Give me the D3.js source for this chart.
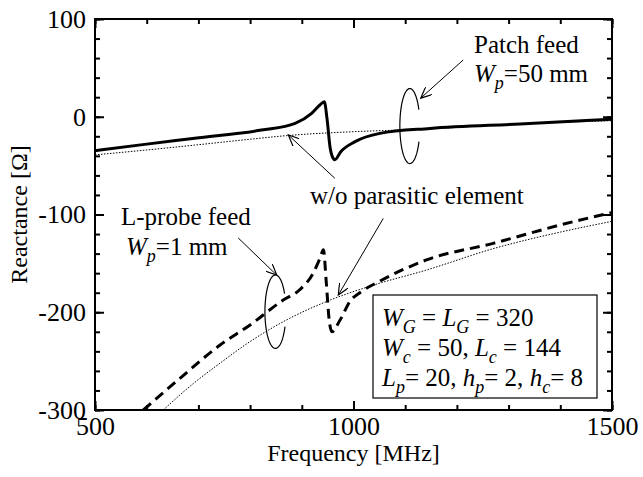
<!DOCTYPE html>
<html>
<head>
<meta charset="utf-8">
<script src="https://cdn.jsdelivr.net/npm/d3@7"></script>
<style>
body { margin: 0; background: #fff; }
text { font-family: "Liberation Serif", "Times New Roman", serif; fill: #000; }
.axis path.domain { display: none; }
.axis line { stroke: #000; stroke-width: 2; }
</style>
</head>
<body>
<svg id="myGraph" width="643" height="477"></svg>
<script>
// chart data
var xTicks = [500, 1000, 1500];
var yTicks = [100, 0, -100, -200, -300];

// Patch feed, Wp=50 mm (solid)
var patchFreq = [500, 600, 693, 822, 887, 919, 935, 943.5, 949, 954.6, 960, 964, 975, 1003, 1051, 1148, 1322, 1500];
var patchX    = [-34.7, -28, -22, -13.6, -6.7, 3.5, 12, 15.4, -3, -31, -42, -44, -36, -25.5, -17, -11.9, -7.4, -2.6];

// L-probe feed, Wp=1 mm (dashed)
var probeFreq = [593.5, 670, 742, 800, 864, 896, 922, 935, 942, 947, 953, 958, 974, 993, 1015, 1048, 1141, 1270, 1400, 1500];
var probeX    = [-300, -265, -233.5, -213, -187.5, -177, -160, -145, -136, -167, -208, -220, -208, -189, -179, -169, -146.5, -129.5, -110.7, -98];

// w/o parasitic element (dotted)
var refFreq  = [500, 600, 693, 800, 871, 1003, 1129, 1300, 1500];
var refUpper = [-39, -34, -29, -23, -19.3, -15.2, -12.9, -8, -4];
var refFreq2 = [632, 690, 742, 800, 870, 948, 1040, 1140, 1270, 1400, 1500];
var refLower = [-300, -273, -252, -230, -208, -189, -172, -157, -135, -118, -107];

var svg = d3.select("#myGraph");
var pLeft = 95, pRight = 612, pTop = 19, pBottom = 410;

var x = d3.scaleLinear().domain([500, 1500]).range([pLeft, pRight]);
var y = d3.scaleLinear().domain([-300, 100]).range([pBottom, pTop]);

// clip for curves
svg.append("clipPath").attr("id", "clip")
  .append("rect").attr("x", pLeft).attr("y", pTop).attr("width", pRight - pLeft).attr("height", pBottom - pTop);

// minor ticks on all sides
var minorX = d3.range(500, 1501, 100), minorY = d3.range(-300, 101, 20);
svg.append("g").attr("class", "axis").attr("transform", "translate(0," + pBottom + ")")
  .call(d3.axisBottom(x).tickValues(minorX).tickSize(-5).tickFormat(""));
svg.append("g").attr("class", "axis").attr("transform", "translate(0," + pTop + ")")
  .call(d3.axisTop(x).tickValues(minorX).tickSize(-5).tickFormat(""));
svg.append("g").attr("class", "axis").attr("transform", "translate(" + pLeft + ",0)")
  .call(d3.axisLeft(y).tickValues(minorY).tickSize(-5).tickFormat(""));
svg.append("g").attr("class", "axis").attr("transform", "translate(" + pRight + ",0)")
  .call(d3.axisRight(y).tickValues(minorY).tickSize(-5).tickFormat(""));

// major ticks + labels
var xAx = svg.append("g").attr("class", "axis").attr("transform", "translate(0," + pBottom + ")")
  .call(d3.axisBottom(x).tickValues(xTicks).tickSize(-9).tickPadding(7).tickFormat(function(d){ return String(d); }));
var yAx = svg.append("g").attr("class", "axis").attr("transform", "translate(" + pLeft + ",0)")
  .call(d3.axisLeft(y).tickValues(yTicks).tickSize(-9).tickPadding(9).tickFormat(function(d){ return String(d); }));
svg.append("g").attr("class", "axis").attr("transform", "translate(0," + pTop + ")")
  .call(d3.axisTop(x).tickValues(xTicks).tickSize(-9).tickFormat(""));
svg.append("g").attr("class", "axis").attr("transform", "translate(" + pRight + ",0)")
  .call(d3.axisRight(y).tickValues(yTicks).tickSize(-9).tickFormat(""));
xAx.selectAll("text").style("font-size", "26px").style("font-family", "Liberation Serif");
yAx.selectAll("text").style("font-size", "26px").style("font-family", "Liberation Serif");

// frame
svg.append("rect").attr("x", pLeft).attr("y", pTop).attr("width", pRight - pLeft).attr("height", pBottom - pTop)
  .attr("fill", "none").attr("stroke", "#000").attr("stroke-width", 2);

// axis titles
svg.append("text").attr("x", (pLeft + pRight) / 2).attr("y", 461).attr("text-anchor", "middle")
  .style("font-size", "24px").text("Frequency [MHz]");
svg.append("text").attr("transform", "translate(27," + ((pTop + pBottom) / 2) + ") rotate(-90)")
  .attr("text-anchor", "middle").style("font-size", "24px").text("Reactance [\u03A9]");

// curves
var line = d3.line().x(function(d){ return x(d[0]); }).y(function(d){ return y(d[1]); }).curve(d3.curveMonotoneX);
var curves = svg.append("g").attr("clip-path", "url(#clip)");
curves.append("path").datum(d3.zip(refFreq, refUpper)).attr("d", line)
  .attr("fill", "none").attr("stroke", "#000").attr("stroke-width", 1).attr("stroke-dasharray", "1.5,1.5");
curves.append("path").datum(d3.zip(refFreq2, refLower)).attr("d", line)
  .attr("fill", "none").attr("stroke", "#000").attr("stroke-width", 1).attr("stroke-dasharray", "1.5,1.5");
curves.append("path").datum(d3.zip(patchFreq, patchX)).attr("d", line)
  .attr("fill", "none").attr("stroke", "#000").attr("stroke-width", 3);
curves.append("path").datum(d3.zip(probeFreq, probeX)).attr("d", line)
  .attr("fill", "none").attr("stroke", "#000").attr("stroke-width", 3).attr("stroke-dasharray", "10,6");

// arrow head
svg.append("defs").append("marker").attr("id", "arr").attr("viewBox", "0 0 12 10")
  .attr("refX", 11).attr("refY", 5).attr("markerWidth", 12).attr("markerHeight", 10)
  .attr("markerUnits", "userSpaceOnUse").attr("orient", "auto")
  .append("path").attr("d", "M0,0 L11,5 L0,10").attr("fill", "none").attr("stroke", "#000").attr("stroke-width", 1.2);

// arrows (from, to) in data coordinates
var arrows = [
  [[1212, 58], [1130, 19]],
  [[777, -124], [851.5, -162]],
  [[964, -63], [874, -18.7]],
  [[1057.6, -104], [970.6, -182.4]]
];
svg.selectAll(".arrow").data(arrows).enter().append("line").attr("class", "arrow")
  .attr("x1", function(d){ return x(d[0][0]); }).attr("y1", function(d){ return y(d[0][1]); })
  .attr("x2", function(d){ return x(d[1][0]); }).attr("y2", function(d){ return y(d[1][1]); })
  .attr("stroke", "#000").attr("stroke-width", 1).attr("marker-end", "url(#arr)");

// open ellipses (center in data coords, radii px, gap on right side)
var rings = [
  { f: 1109, v: -9.5, rx: 10, ry: 37.5, g0: -0.44, g1: 0.43 },
  { f: 849, v: -199.4, rx: 10.5, ry: 36.7, g0: -0.47, g1: 0.42 }
];
rings.forEach(function(r){
  var pts = d3.range(r.g1, 2 * Math.PI + r.g0 + 0.001, 0.05).map(function(t){
    return [x(r.f) + r.rx * Math.cos(t), y(r.v) + r.ry * Math.sin(t)];
  });
  svg.append("path").attr("d", d3.line()(pts)).attr("fill", "none").attr("stroke", "#000").attr("stroke-width", 1.2);
});

// labels with subscripts
function label(px, py, parts, size) {
  var t = svg.append("text").attr("x", px).attr("y", py).style("font-size", size + "px");
  parts.forEach(function(p){
    var s = t.append("tspan").text(p.t);
    if (p.i) s.style("font-style", "italic");
    if (p.sub) s.style("font-size", (size * 0.72) + "px").attr("dy", 7);
    if (p.up) s.attr("dy", -7);
  });
  return t;
}
label(474, 53, [{t: "Patch feed"}], 25);
label(474, 82, [{t: "W", i: 1}, {t: "p", i: 1, sub: 1}, {t: "=50 mm", up: 1}], 25);
label(121, 225, [{t: "L-probe feed"}], 25);
label(126, 255, [{t: "W", i: 1}, {t: "p", i: 1, sub: 1}, {t: "=1 mm", up: 1}], 25);
label(310, 204, [{t: "w/o parasitic element"}], 25);

// parameter box
svg.append("rect").attr("x", 373).attr("y", 295).attr("width", 224).attr("height", 103)
  .attr("fill", "#fff").attr("stroke", "#000").attr("stroke-width", 1.2);
label(382, 326, [{t: "W", i: 1}, {t: "G", i: 1, sub: 1}, {t: " = ", up: 1}, {t: "L", i: 1}, {t: "G", i: 1, sub: 1}, {t: " = 320", up: 1}], 25);
label(382, 356, [{t: "W", i: 1}, {t: "c", i: 1, sub: 1}, {t: " = 50, ", up: 1}, {t: "L", i: 1}, {t: "c", i: 1, sub: 1}, {t: " = 144", up: 1}], 25);
label(382, 386, [{t: "L", i: 1}, {t: "p", i: 1, sub: 1}, {t: "= 20, ", up: 1}, {t: "h", i: 1}, {t: "p", i: 1, sub: 1}, {t: "= 2, ", up: 1}, {t: "h", i: 1}, {t: "c", i: 1, sub: 1}, {t: "= 8", up: 1}], 25);
</script>
</body>
</html>
